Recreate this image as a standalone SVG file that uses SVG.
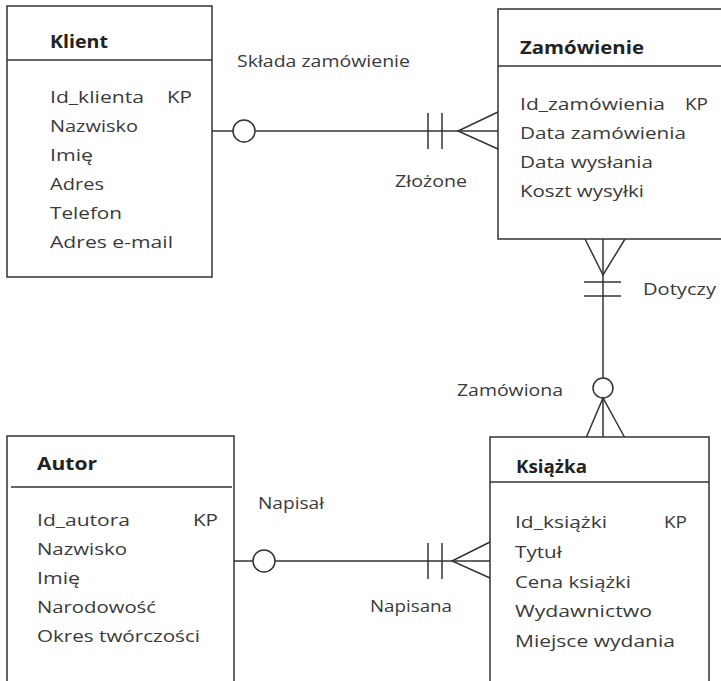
<svg xmlns="http://www.w3.org/2000/svg" width="721" height="681" viewBox="0 0 721 681">
<style>
.box{fill:#fff;stroke:#333;stroke-width:1.5}
.ln{stroke:#333;stroke-width:1.5;fill:none}
text{font-family:"Open Sans","Noto Sans",sans-serif;font-size:17px}
.t{fill:#3a3a3a}
.h{font-weight:bold;fill:#222}
.c{fill:#fff;stroke:#333;stroke-width:1.5}
</style>
<rect width="721" height="681" fill="#fff"/>
<g id="connectors">
  <g id="klient-zamowienie">
    <line class="ln" x1="212" y1="131" x2="498" y2="131"/>
    <circle class="c" cx="244" cy="131" r="11"/>
    <line class="ln" x1="428" y1="113" x2="428" y2="149"/>
    <line class="ln" x1="442" y1="113" x2="442" y2="149"/>
    <polyline class="ln" points="498,112 458,131 498,149"/>
  </g>
  <g id="zamowienie-ksiazka">
    <line class="ln" x1="603" y1="239" x2="603" y2="438"/>
    <polyline class="ln" points="585,239 603,275 625,239"/>
    <line class="ln" x1="584" y1="282" x2="621" y2="282"/>
    <line class="ln" x1="584" y1="296" x2="621" y2="296"/>
    <circle class="c" cx="603" cy="388" r="10"/>
    <polyline class="ln" points="586,438 603,398 625,438"/>
  </g>
  <g id="autor-ksiazka">
    <line class="ln" x1="234" y1="561" x2="490" y2="561"/>
    <circle class="c" cx="264" cy="561" r="11"/>
    <line class="ln" x1="428" y1="543" x2="428" y2="579"/>
    <line class="ln" x1="442" y1="543" x2="442" y2="579"/>
    <polyline class="ln" points="490,542 452,561 490,578"/>
  </g>
  <text class="t" x="237" y="67" textLength="173" lengthAdjust="spacingAndGlyphs">Składa zamówienie</text>
  <text class="t" x="395" y="187" textLength="72" lengthAdjust="spacingAndGlyphs">Złożone</text>
  <text class="t" x="643" y="295" textLength="73" lengthAdjust="spacingAndGlyphs">Dotyczy</text>
  <text class="t" x="457" y="396" textLength="106" lengthAdjust="spacingAndGlyphs">Zamówiona</text>
  <text class="t" x="258" y="509" textLength="66" lengthAdjust="spacingAndGlyphs">Napisał</text>
  <text class="t" x="370" y="612" textLength="82" lengthAdjust="spacingAndGlyphs">Napisana</text>
</g>
<g id="klient">
  <rect class="box" x="7" y="6" width="205" height="271"/>
  <line class="ln" x1="7" y1="60" x2="212" y2="60"/>
  <text class="h" x="50" y="48" textLength="58" lengthAdjust="spacingAndGlyphs">Klient</text>
  <text class="t" x="50" y="103" textLength="94" lengthAdjust="spacingAndGlyphs">Id_klienta</text>
  <text class="t" x="167" y="103" textLength="25" lengthAdjust="spacingAndGlyphs">KP</text>
  <text class="t" x="50" y="132" textLength="88" lengthAdjust="spacingAndGlyphs">Nazwisko</text>
  <text class="t" x="50" y="161" textLength="43" lengthAdjust="spacingAndGlyphs">Imię</text>
  <text class="t" x="50" y="190" textLength="54" lengthAdjust="spacingAndGlyphs">Adres</text>
  <text class="t" x="50" y="219" textLength="72" lengthAdjust="spacingAndGlyphs">Telefon</text>
  <text class="t" x="50" y="248" textLength="123" lengthAdjust="spacingAndGlyphs">Adres e-mail</text>
</g>
<g id="zamowienie">
  <rect class="box" x="498" y="9" width="230" height="230"/>
  <line class="ln" x1="498" y1="66" x2="721" y2="66"/>
  <text class="h" x="520" y="54" textLength="124" lengthAdjust="spacingAndGlyphs">Zamówienie</text>
  <text class="t" x="520" y="110" textLength="145" lengthAdjust="spacingAndGlyphs">Id_zamówienia</text>
  <text class="t" x="685" y="110" textLength="23" lengthAdjust="spacingAndGlyphs">KP</text>
  <text class="t" x="520" y="139" textLength="166" lengthAdjust="spacingAndGlyphs">Data zamówienia</text>
  <text class="t" x="520" y="168" textLength="133" lengthAdjust="spacingAndGlyphs">Data wysłania</text>
  <text class="t" x="520" y="197" textLength="124" lengthAdjust="spacingAndGlyphs">Koszt wysyłki</text>
</g>
<g id="autor">
  <rect class="box" x="7" y="436" width="227" height="260"/>
  <line class="ln" x1="11" y1="487" x2="232" y2="487"/>
  <text class="h" x="37" y="470" textLength="60" lengthAdjust="spacingAndGlyphs">Autor</text>
  <text class="t" x="37" y="526" textLength="93" lengthAdjust="spacingAndGlyphs">Id_autora</text>
  <text class="t" x="193" y="526" textLength="25" lengthAdjust="spacingAndGlyphs">KP</text>
  <text class="t" x="37" y="555" textLength="90" lengthAdjust="spacingAndGlyphs">Nazwisko</text>
  <text class="t" x="37" y="584" textLength="43" lengthAdjust="spacingAndGlyphs">Imię</text>
  <text class="t" x="37" y="613" textLength="119" lengthAdjust="spacingAndGlyphs">Narodowość</text>
  <text class="t" x="37" y="642" textLength="163" lengthAdjust="spacingAndGlyphs">Okres twórczości</text>
</g>
<g id="ksiazka">
  <rect class="box" x="490" y="437" width="219" height="260"/>
  <line class="ln" x1="490" y1="482" x2="709" y2="482"/>
  <text class="h" x="516" y="473" textLength="71" lengthAdjust="spacingAndGlyphs">Książka</text>
  <text class="t" x="515" y="528" textLength="92" lengthAdjust="spacingAndGlyphs">Id_książki</text>
  <text class="t" x="664" y="528" textLength="23" lengthAdjust="spacingAndGlyphs">KP</text>
  <text class="t" x="515" y="558" textLength="47" lengthAdjust="spacingAndGlyphs">Tytuł</text>
  <text class="t" x="515" y="588" textLength="116" lengthAdjust="spacingAndGlyphs">Cena książki</text>
  <text class="t" x="515" y="617" textLength="137" lengthAdjust="spacingAndGlyphs">Wydawnictwo</text>
  <text class="t" x="515" y="647" textLength="160" lengthAdjust="spacingAndGlyphs">Miejsce wydania</text>
</g>
</svg>
